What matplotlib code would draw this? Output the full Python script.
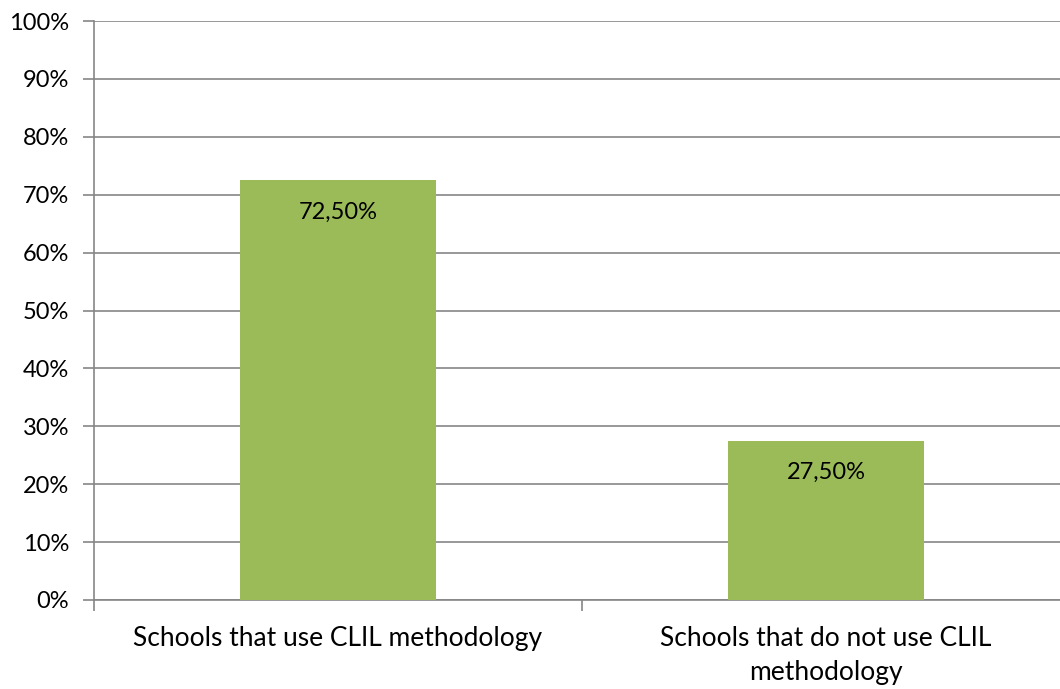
import matplotlib.pyplot as plt
from matplotlib.ticker import FuncFormatter, MultipleLocator

categories = ['Schools that use CLIL methodology', 'Schools that do not use CLIL\nmethodology']
shares = [72.5, 27.5]
value_labels = ['72,50%', '27,50%']

plt.rcParams['font.family'] = ['Lato', 'DejaVu Sans']

fig = plt.figure(figsize=(10.6, 6.89), dpi=100)
ax = fig.add_axes([94 / 1060, 89 / 689, 976 / 1060, 579 / 689])

x = list(range(len(categories)))
bars = ax.bar(x, shares, width=0.4, color='#9BBB59', zorder=3)

# value labels sit just inside the top of each bar
for rect, lab in zip(bars, value_labels):
    ax.annotate(lab, (rect.get_x() + rect.get_width() / 2, rect.get_height()),
                xytext=(0, -32), textcoords='offset pixels',
                ha='center', va='center', fontsize=17, color='black', zorder=4)

ax.set_xlim(-0.5, 1.5)
ax.set_ylim(0, 100)
ax.yaxis.set_major_locator(MultipleLocator(10))
ax.yaxis.set_major_formatter(FuncFormatter(lambda v, p: f'{v:.0f}%'))
ax.grid(axis='y', color='#868686', linewidth=1.2, zorder=0)

ax.set_xticks([-0.5, 0.5, 1.5])
ax.set_xticklabels([])
ax.set_xticks(x, minor=True)
ax.set_xticklabels(categories, minor=True, fontsize=19, linespacing=1.45)
ax.tick_params(axis='x', which='minor', length=0, pad=19)
ax.tick_params(axis='x', which='major', length=8, color='#868686', width=1.2)
ax.tick_params(axis='y', length=8, color='#868686', width=1.2, labelsize=17, pad=10)

for side in ['top', 'right']:
    ax.spines[side].set_visible(False)
for side in ['left', 'bottom']:
    ax.spines[side].set_color('#868686')
    ax.spines[side].set_linewidth(1.2)

fig.savefig('out.png', dpi=100)
